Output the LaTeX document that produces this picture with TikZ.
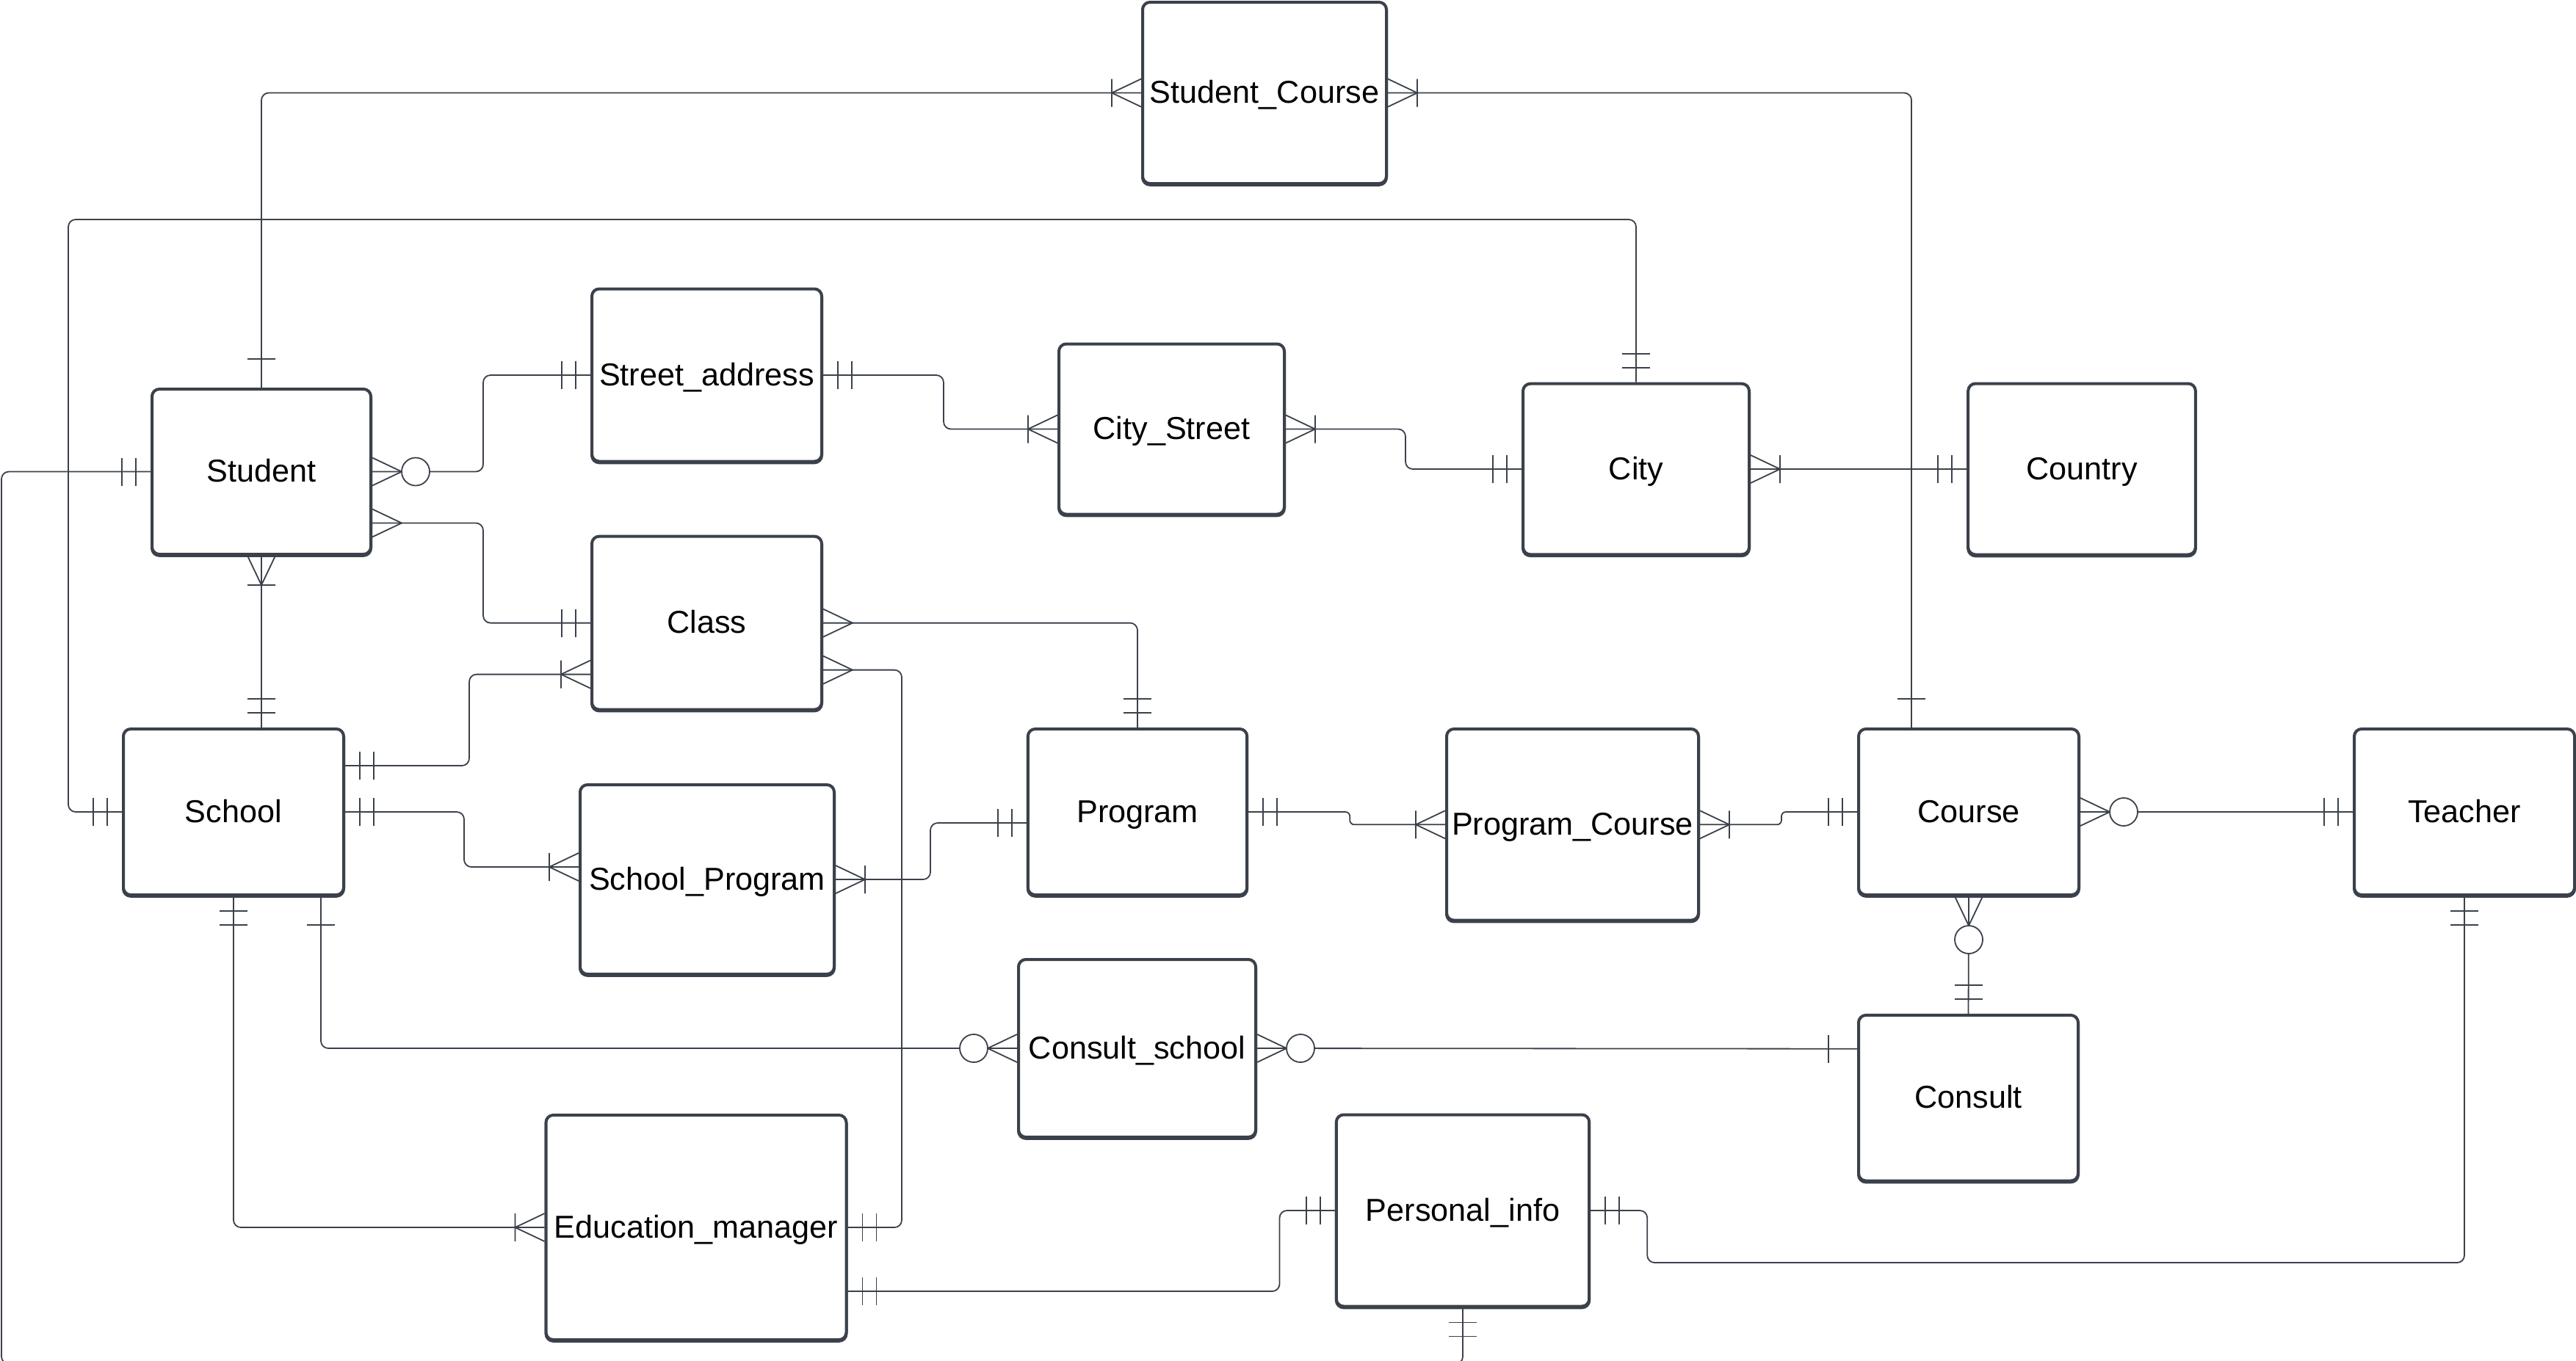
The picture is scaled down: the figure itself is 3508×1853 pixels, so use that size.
\documentclass[tikz,border=0pt]{standalone}
\usepackage{fontspec}
\setmainfont{Liberation Sans}
\usetikzlibrary{calc}
\definecolor{ink}{HTML}{3B414B}
\begin{document}
\begin{tikzpicture}[x=0.25pt,y=-0.25pt,
  entity/.style={draw=ink, line width=1pt, rounded corners=2.5pt, fill=white,
    preaction={draw=ink, line width=1pt, transform canvas={yshift=-0.45pt}},
    inner sep=0pt, text=black, text height=0.70em, text depth=0pt,
    font=\fontsize{10.8}{13}\selectfont},
  conn/.style={draw=ink, line width=0.45pt},
  wire/.style={conn, rounded corners=2.5pt},
  % crow's foot end marks, drawn pointing away from the entity
  erone/.pic={\draw[conn] (39,-19) -- (39,19);},
  eronlyone/.pic={\draw[conn] (20,-19) -- (20,19) (39,-19) -- (39,19);},
  ermany/.pic={\draw[conn] (0,-19) -- (40,0) -- (0,19);},
  eroneormany/.pic={\draw[conn] (0,-19) -- (40,0) -- (0,19) (40,-19) -- (40,19);},
  erzeromany/.pic={\draw[conn] (0,-19) -- (40,0) -- (0,19);
                   \draw[conn, fill=white] (59,0) circle[radius=19];},
]
\fill[white] (0,0) rectangle (3508,1853);
\useasboundingbox (0,0) rectangle (3508,1853);

% entities
\node[entity, minimum width=83pt,    minimum height=61.75pt] (stc)           at (1722,126.5)  {Student\_Course};
\node[entity, minimum width=74.5pt,  minimum height=56.25pt] (student)       at (356,642.5)   {Student};
\node[entity, minimum width=78.25pt, minimum height=58.75pt] (street)        at (962.5,511)   {Street\_address};
\node[entity, minimum width=76.75pt, minimum height=58pt]    (citystreet)    at (1595.5,584.5){City\_Street};
\node[entity, minimum width=77pt,    minimum height=58.15pt] (city)          at (2228,639)    {City};
\node[entity, minimum width=77.4pt,  minimum height=58.25pt] (country)       at (2835,639)    {Country};
\node[entity, minimum width=78.25pt, minimum height=59pt]    (class)         at (962.5,848.6) {Class};
\node[entity, minimum width=75pt,    minimum height=56.5pt]  (school)        at (318,1106)    {School};
\node[entity, minimum width=86.5pt,  minimum height=64.5pt]  (schoolprogram) at (963,1198)    {School\_Program};
\node[entity, minimum width=74.6pt,  minimum height=56.5pt]  (program)       at (1549,1106)   {Program};
\node[entity, minimum width=85.75pt, minimum height=65.15pt] (programcourse) at (2141.5,1123.3){Program\_Course};
\node[entity, minimum width=75pt,    minimum height=56.5pt]  (course)        at (2681,1106)   {Course};
\node[entity, minimum width=75pt,    minimum height=56.5pt]  (teacher)       at (3356,1106)   {Teacher};
\node[entity, minimum width=80.75pt, minimum height=60.5pt]  (consultschool) at (1548.5,1428) {Consult\_school};
\node[entity, minimum width=74.75pt, minimum height=56.4pt]  (consult)       at (2680.5,1495.7){Consult};
\node[entity, minimum width=102.25pt,minimum height=76.5pt]  (edu)           at (948,1672)    {Education\_manager};
\node[entity, minimum width=86.1pt,  minimum height=65.25pt] (personal)      at (1992,1649)   {Personal\_info};

% relationships
\draw[wire] (stc.west) -| (student.north);
\pic[rotate=180] at (stc.west) {eroneormany};
\pic[rotate=90] at (student.north) {erone};

\draw[wire] (stc.east) -| ($(course.north)+(-78,0)$);
\pic at (stc.east) {eroneormany};
\pic[rotate=90] at ($(course.north)+(-78,0)$) {erone};

\draw[wire] (city.north) |- (93,299) |- (school.west);
\pic[rotate=90] at (city.north) {eronlyone};
\pic[rotate=180] at (school.west) {eronlyone};

% runs along the lower page edge
\draw[wire] (student.west) -| (2,1858) -| (personal.south);
\pic[rotate=180] at (student.west) {eronlyone};
\pic[rotate=270] at (personal.south) {eronlyone};

\draw[wire] (student.east) -- ++(151,0) |- (street.west);
\pic at (student.east) {erzeromany};
\pic[rotate=180] at (street.west) {eronlyone};

\draw[wire] ($(student.east)+(0,70)$) -- ++(151,0) |- (class.west);
\pic at ($(student.east)+(0,70)$) {ermany};
\pic[rotate=180] at (class.west) {eronlyone};

\draw[conn] (student.south) -- ($(school.north)+(38,0)$);
\pic[rotate=270] at (student.south) {eroneormany};
\pic[rotate=90] at ($(school.north)+(38,0)$) {eronlyone};

\draw[wire] ($(school.east)+(0,-63)$) -- ++(169,0) |- ($(class.west)+(0,70)$);
\pic at ($(school.east)+(0,-63)$) {eronlyone};
\pic[rotate=180] at ($(class.west)+(0,70)$) {eroneormany};

\draw[wire] (school.east) -- ++(162,0) |- ($(schoolprogram.west)+(0,-17)$);
\pic at (school.east) {eronlyone};
\pic[rotate=180] at ($(schoolprogram.west)+(0,-17)$) {eroneormany};

\draw[wire] (schoolprogram.east) -- ++(129,0) |- ($(program.west)+(0,15)$);
\pic at (schoolprogram.east) {eroneormany};
\pic[rotate=180] at ($(program.west)+(0,15)$) {eronlyone};

\draw[wire] (class.east) -| (program.north);
\pic at (class.east) {ermany};
\pic[rotate=90] at (program.north) {eronlyone};

\draw[wire] ($(class.east)+(0,64)$) -- ++(107,0) |- (edu.east);
\pic at ($(class.east)+(0,64)$) {ermany};
\pic at (edu.east) {eronlyone};

\draw[wire] (school.south) |- (edu.west);
\pic[rotate=270] at (school.south) {eronlyone};
\pic[rotate=180] at (edu.west) {eroneormany};

\draw[wire] ($(school.south)+(119,0)$) |- (consultschool.west);
\pic[rotate=270] at ($(school.south)+(119,0)$) {erone};
\pic[rotate=180] at (consultschool.west) {erzeromany};

\draw[conn] (consultschool.east) -- ($(consult.west)+(0,-67)$);
\pic at (consultschool.east) {erzeromany};
\pic[rotate=180] at ($(consult.west)+(0,-67)$) {erone};

\draw[conn] (course.south) -- (consult.north);
\pic[rotate=270] at (course.south) {erzeromany};
\pic[rotate=90] at (consult.north) {eronlyone};

\draw[conn] (course.east) -- (teacher.west);
\pic at (course.east) {erzeromany};
\pic[rotate=180] at (teacher.west) {eronlyone};

\draw[wire, rounded corners=1.5pt] (program.east) -- ++(138,0) |- (programcourse.west);
\pic at (program.east) {eronlyone};
\pic[rotate=180] at (programcourse.west) {eroneormany};

\draw[wire, rounded corners=1.5pt] (programcourse.east) -- ++(111,0) |- (course.west);
\pic at (programcourse.east) {eroneormany};
\pic[rotate=180] at (course.west) {eronlyone};

\draw[conn] (city.east) -- (country.west);
\pic at (city.east) {eroneormany};
\pic[rotate=180] at (country.west) {eronlyone};

\draw[wire] (citystreet.east) -- ++(163,0) |- (city.west);
\pic at (citystreet.east) {eroneormany};
\pic[rotate=180] at (city.west) {eronlyone};

\draw[wire] (street.east) -- ++(164,0) |- (citystreet.west);
\pic at (street.east) {eronlyone};
\pic[rotate=180] at (citystreet.west) {eroneormany};

\draw[wire] ($(edu.east)+(0,87)$) -- ++(588,0) |- (personal.west);
\pic at ($(edu.east)+(0,87)$) {eronlyone};
\pic[rotate=180] at (personal.west) {eronlyone};

\draw[wire] (personal.east) -- ++(77,0) -- ++(0,71) -| (teacher.south);
\pic at (personal.east) {eronlyone};
\pic[rotate=270] at (teacher.south) {eronlyone};
\end{tikzpicture}
\end{document}
